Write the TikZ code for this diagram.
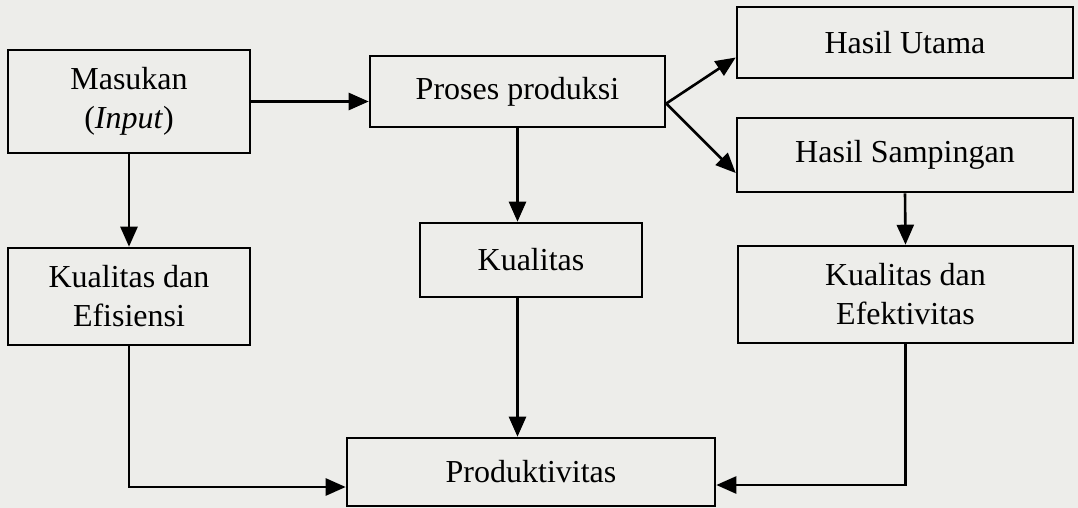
\documentclass[tikz,border=0pt]{standalone}
\usepackage{fontspec}
\setmainfont{Liberation Serif}
\usetikzlibrary{arrows.meta,calc}
\definecolor{paper}{RGB}{237,237,234}
\tikzset{
  box/.style={draw=black, line width=2.6pt, fill=paper, align=center, inner sep=0pt,
    font=\fontsize{32}{39}\selectfont},
  conn/.style={line width=2.6pt, -{Triangle[length=20pt,width=17pt]}}
}
\begin{document}
\begin{tikzpicture}[x=1pt,y=-1pt]
\fill[paper] (0,0) rectangle (1078,508);
\useasboundingbox (0,0) rectangle (1078,508);
\node[box, minimum width=242pt, minimum height=103pt] (mas) at (129,101.5) {Masukan\\(\textit{Input})};
\node[box, minimum width=295pt, minimum height=71pt] (pro) at (517.5,91.5) {Proses produksi};
\node[box, minimum width=336pt, minimum height=71pt] (hu) at (905,42.5) {Hasil Utama};
\node[box, minimum width=336pt, minimum height=74pt] (hs) at (905,155) {Hasil Sampingan};
\node[box, minimum width=222pt, minimum height=74pt] (kua) at (531,260) {Kualitas};
\node[box, minimum width=242pt, minimum height=97pt] (kde) at (129,296.5) {Kualitas dan\\Efisiensi};
\node[box, minimum width=335pt, minimum height=97pt] (kdf) at (905.5,294.5) {Kualitas dan\\Efektivitas};
\node[box, minimum width=368pt, minimum height=68pt] (prd) at (531,472) {Produktivitas};
\coordinate (split) at ([yshift=-12pt]pro.east);
\draw[conn] (mas.east) -- (mas.east -| pro.west);
\draw[conn] (split) -- ([yshift=-15pt]hu.west);
\draw[conn] (split) -- ([yshift=-18pt]hs.west);
\draw[conn] (mas.south) -- (kde.north);
\draw[conn] (pro.south) -- (pro.south |- kua.north);
\draw[conn] (pro.south |- kua.south) -- (pro.south |- prd.north);
\draw[conn] (hs.south) -- (kdf.north);
\draw[conn] (kde.south) |- ([yshift=-15pt]prd.west);
\draw[conn] (kdf.south) |- ([yshift=-13pt]prd.east);
\end{tikzpicture}
\end{document}
